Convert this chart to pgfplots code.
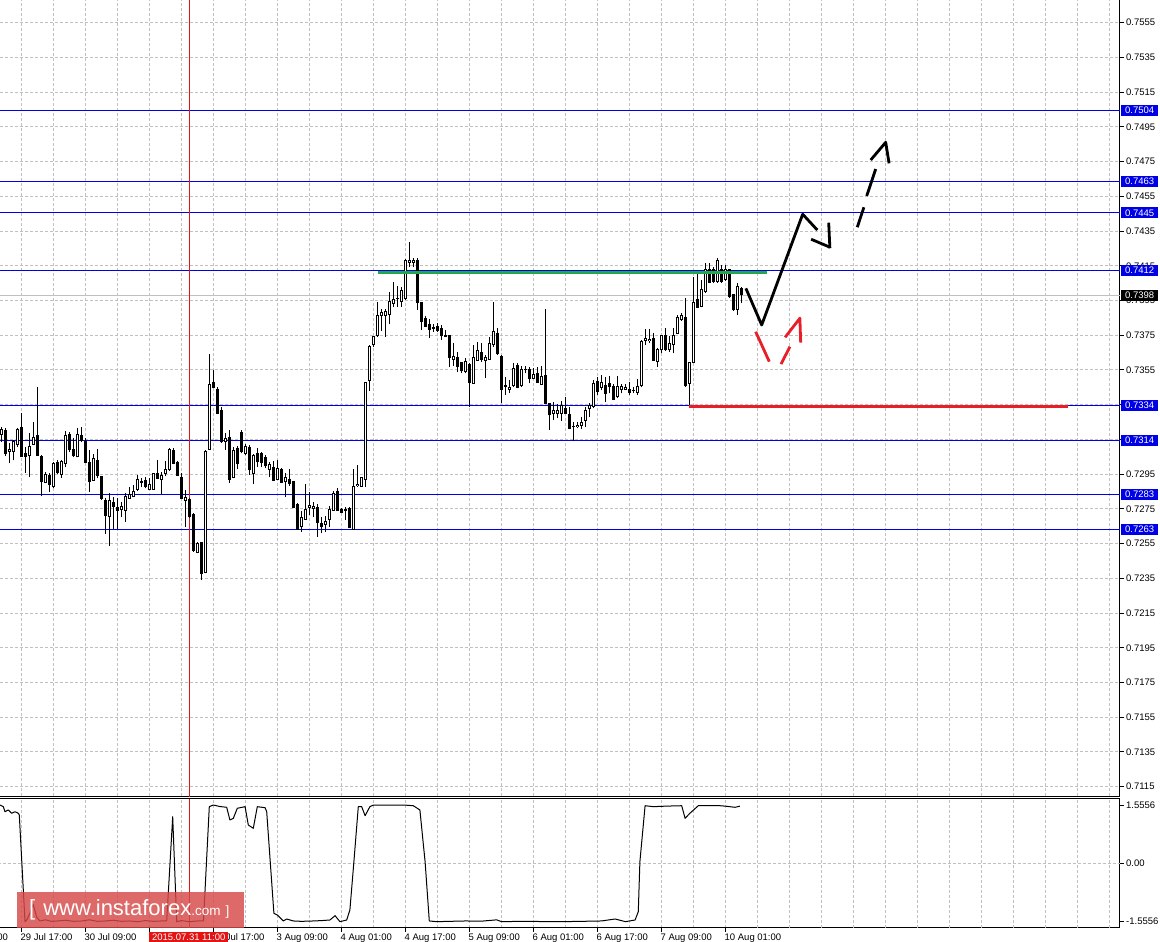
\documentclass[border=0pt]{standalone}
\usepackage{fontspec}
\setmainfont{Liberation Sans}
\usepackage{pgfplots}
\pgfplotsset{compat=1.18}
\usepackage{pgfplotstable}

\definecolor{gridgray}{RGB}{192,192,192}
\definecolor{lvlblue}{RGB}{0,0,230}
\definecolor{xred}{RGB}{228,20,20}
\definecolor{mygreen}{RGB}{36,166,78}
\definecolor{myred}{RGB}{232,30,40}
\definecolor{wmred}{RGB}{214,72,72}

\newcommand\tf{\fontsize{9.5pt}{11pt}\selectfont}

\pgfplotstableread{
k o h l c
0 .73181 .73223 .73137 .73208
1 .73204 .73214 .73054 .73070
2 .73081 .73127 .73012 .73094
3 .73079 .73146 .73031 .73137
4 .73121 .73214 .73108 .73208
5 .73219 .73300 .73050 .73054
6 .73070 .73108 .72958 .73050
7 .73058 .73185 .72931 .73112
8 .73121 .73248 .73116 .73162
9 .73175 .73454 .73054 .73058
10 .73054 .73060 .72824 .72906
11 .72903 .72964 .72897 .72949
12 .72945 .72954 .72849 .72893
13 .72878 .73022 .72868 .73012
14 .73018 .73031 .72949 .72958
15 .72949 .73031 .72926 .73022
16 .73012 .73200 .72989 .73175
17 .73181 .73194 .73079 .73094
18 .73094 .73156 .73047 .73056
19 .73050 .73214 .73047 .73181
20 .73175 .73223 .73137 .73146
21 .73137 .73160 .73012 .73016
22 .73016 .73089 .72849 .72906
23 .72916 .73066 .72910 .73039
24 .73031 .73093 .72926 .72943
25 .72935 .72939 .72801 .72810
26 .72801 .72810 .72605 .72714
27 .72705 .72839 .72538 .72801
28 .72789 .72816 .72634 .72766
29 .72759 .72810 .72634 .72743
30 .72747 .72791 .72701 .72762
31 .72743 .72839 .72676 .72824
32 .72810 .72878 .72807 .72830
33 .72820 .72887 .72816 .72849
34 .72862 .72945 .72853 .72920
35 .72910 .72926 .72878 .72901
36 .72916 .72935 .72868 .72878
37 .72862 .72926 .72858 .72893
38 .72862 .72958 .72858 .72951
39 .72951 .73031 .72920 .72926
40 .72920 .72964 .72835 .72945
41 .72951 .73025 .72939 .72977
42 .72974 .73098 .72968 .73093
43 .73089 .73098 .73008 .73012
44 .73018 .73025 .72939 .72945
45 .72931 .72958 .72805 .72810
46 .72801 .72858 .72647 .72814
47 .72805 .72810 .72695 .72705
48 .72720 .72724 .72503 .72509
49 .72499 .72561 .72494 .72551
50 .72557 .72561 .72340 .72378
51 .72384 .73089 .72378 .73083
52 .73093 .73642 .73089 .73464
53 .73477 .73550 .73446 .73448
54 .73440 .73454 .73296 .73300
55 .73319 .73339 .73131 .73137
56 .73137 .73187 .73089 .73153
57 .73162 .73204 .72901 .72920
58 .72932 .73108 .72926 .73085
59 .73099 .73112 .72978 .73012
60 .73191 .73204 .73070 .73079
61 .73070 .73124 .73060 .73112
62 .73102 .73118 .72945 .72974
63 .72955 .73064 .72892 .73055
64 .73070 .73098 .72993 .73020
65 .73070 .73079 .72989 .73016
66 .73047 .73060 .72983 .72997
67 .72977 .73022 .72931 .73003
68 .72989 .73027 .72912 .72916
69 .72920 .73031 .72916 .72983
70 .72974 .72983 .72901 .72903
71 .72906 .72958 .72820 .72931
72 .72920 .72977 .72881 .72897
73 .72906 .72912 .72753 .72757
74 .72776 .72782 .72630 .72634
75 .72647 .72739 .72618 .72701
76 .72690 .72893 .72686 .72747
77 .72757 .72845 .72714 .72772
78 .72753 .72791 .72701 .72762
79 .72759 .72778 .72590 .72670
80 .72663 .72705 .72609 .72647
81 .72661 .72709 .72618 .72680
82 .72690 .72766 .72647 .72747
83 .72743 .72855 .72739 .72839
84 .72849 .72868 .72739 .72743
85 .72747 .72753 .72724 .72730
86 .72747 .72759 .72686 .72741
87 .72753 .72762 .72638 .72643
88 .72634 .72977 .72630 .72878
89 .72885 .73003 .72878 .72891
90 .72881 .72935 .72878 .72931
91 .72920 .73482 .72878 .73479
92 .73488 .73694 .73431 .73684
93 .73694 .73746 .73684 .73742
94 .73746 .73943 .73742 .73866
95 .73865 .73899 .73776 .73880
96 .73865 .73899 .73742 .73886
97 .73870 .74001 .73813 .73943
98 .73934 .74059 .73915 .73953
99 .73959 .74034 .73915 .73963
100 .73943 .74030 .73915 .74007
101 .73959 .74187 .73953 .74183
102 .74170 .74285 .74141 .74183
103 .74170 .74193 .74141 .74178
104 .74183 .74193 .73895 .73938
105 .73938 .73943 .73780 .73828
106 .73847 .73861 .73795 .73803
107 .73813 .73842 .73732 .73784
108 .73795 .73815 .73770 .73790
109 .73803 .73819 .73770 .73780
110 .73790 .73809 .73722 .73746
111 .73746 .73780 .73738 .73742
112 .73751 .73751 .73569 .73623
113 .73611 .73703 .73573 .73630
114 .73623 .73655 .73540 .73569
115 .73592 .73598 .73530 .73546
116 .73540 .73617 .73530 .73598
117 .73584 .73592 .73339 .73477
118 .73473 .73694 .73469 .73623
119 .73607 .73713 .73604 .73661
120 .73650 .73703 .73598 .73611
121 .73602 .73636 .73502 .73623
122 .73611 .73742 .73607 .73703
123 .73694 .73943 .73684 .73771
124 .73761 .73790 .73636 .73642
125 .73630 .73636 .73358 .73438
126 .73454 .73511 .73406 .73458
127 .73438 .73492 .73415 .73450
128 .73458 .73592 .73454 .73559
129 .73573 .73588 .73444 .73450
130 .73458 .73573 .73454 .73554
131 .73554 .73573 .73530 .73550
132 .73554 .73569 .73473 .73502
133 .73502 .73559 .73496 .73521
134 .73530 .73569 .73473 .73477
135 .73469 .73573 .73463 .73515
136 .73519 .73901 .73354 .73358
137 .73358 .73362 .73204 .73291
138 .73300 .73367 .73262 .73316
139 .73300 .73354 .73272 .73316
140 .73300 .73373 .73258 .73348
141 .73329 .73396 .73296 .73300
142 .73291 .73339 .73208 .73214
143 .73223 .73252 .73143 .73227
144 .73227 .73252 .73214 .73233
145 .73233 .73281 .73208 .73246
146 .73258 .73339 .73223 .73319
147 .73329 .73358 .73281 .73348
148 .73342 .73492 .73329 .73473
149 .73483 .73511 .73406 .73425
150 .73450 .73521 .73434 .73477
151 .73463 .73511 .73367 .73415
152 .73473 .73515 .73415 .73454
153 .73454 .73469 .73377 .73381
154 .73396 .73515 .73386 .73454
155 .73438 .73469 .73415 .73454
156 .73438 .73469 .73434 .73450
157 .73438 .73483 .73406 .73419
158 .73434 .73454 .73415 .73431
159 .73419 .73496 .73406 .73454
160 .73458 .73722 .73450 .73713
161 .73719 .73784 .73694 .73732
162 .73719 .73784 .73707 .73726
163 .73732 .73761 .73604 .73607
164 .73598 .73674 .73569 .73665
165 .73665 .73751 .73650 .73746
166 .73746 .73790 .73661 .73669
167 .73665 .73746 .73655 .73703
168 .73694 .73790 .73646 .73746
169 .73761 .73866 .73757 .73853
170 .73838 .73876 .73834 .73866
171 .73853 .73963 .73454 .73458
172 .73473 .73598 .73329 .73592
173 .73592 .74087 .73588 .73938
174 .73953 .74107 .73905 .73911
175 .73918 .74068 .73911 .74014
176 .74001 .74168 .73995 .74126
177 .74130 .74164 .74049 .74053
178 .74130 .74145 .74053 .74059
179 .74059 .74193 .74053 .74180
180 .74130 .74155 .74053 .74059
181 .74072 .74155 .74064 .74130
182 .74126 .74130 .73963 .73972
183 .73982 .73988 .73892 .73899
184 .73899 .74053 .73866 .74030
185 .74020 .74026 .73934 .73982
}\candles

\pgfplotstableread{
k v
-0.375 1.561
0.45 1.516
0.875 1.381
1.7 1.427
2.55 1.339
3.375 1.381
4.2 1.339
4.45 1.293
5.875 -1.569
6.3 -1.524
7.1 -1.35
7.9 -1.10
8.8 -1.45
9.6 -1.55
11 -1.52
12.5 -1.56
14 -1.55
16 -1.53
18 -1.56
20 -1.55
22 -1.52
24 -1.56
26 -1.55
28 -1.53
30 -1.56
32 -1.55
34 -1.57
36 -1.54
38 -1.56
40 -1.55
41.3 -1.55
42.8 1.247
43.8 -1.569
45 -1.54
47 -1.57
49 -1.55
50.5 -1.55
51.95 1.516
52.95 1.561
54.6 1.52
56.3 1.5
57.1 1.159
57.95 1.204
58.95 1.473
60.9 1.516
61.7 1.025
62.95 0.936
63.95 1.516
65.9 1.489
66.3 1.381
68.1 -1.344
68.95 -1.389
70.45 -1.55
71.3 -1.497
72.95 -1.55
75 -1.56
78 -1.55
80 -1.54
82.1 -1.524
83.4 -1.408
84.6 -1.569
86.3 -1.524
87.1 -1.255
88.1 0.04
89.2 1.516
90.05 1.516
90.9 1.274
92.1 1.516
93 1.561
100.45 1.561
102.95 1.542
104.6 1.427
105.9 0.04
106.95 -1.55
108.8 -1.569
112 -1.56
116 -1.55
120 -1.555
123.8 -1.52
125 -1.569
130 -1.56
135 -1.565
140 -1.569
145 -1.56
150 -1.55
153.4 -1.497
156 -1.569
158.4 -1.524
159.2 -1.3
159.6 0.04
160.9 1.542
162.95 1.516
166 1.53
170.05 1.542
170.9 1.204
172.1 1.339
174.2 1.542
179.6 1.542
181 1.53
183.4 1.499
184.6 1.53
}\indtab

\begin{document}
\begin{tikzpicture}
\useasboundingbox (0,0) rectangle (1160pt,942pt);
\fill[white] (0,0) rectangle (1160pt,942pt);

% ---------------- main price panel ----------------
\begin{axis}[
  at={(0pt,145.5pt)}, anchor=south west, scale only axis,
  width=1120pt, height=796.5pt,
  xmin=-0.375, xmax=279.625, ymin=0.710936, ymax=0.756807,
  axis x line*=bottom, axis y line*=right,
  axis line style={-, black, line width=1pt},
  xtick={5,13,...,277}, xticklabels={}, major x tick style={draw=none},
  ytick={0.7115,0.7135,0.7155,0.7175,0.7195,0.7215,0.7235,0.7255,0.7275,0.7295,0.7315,0.7335,0.7355,0.7375,0.7395,0.7415,0.7435,0.7455,0.7475,0.7495,0.7515,0.7535,0.7555},
  yticklabels={0.7115,0.7135,0.7155,0.7175,0.7195,0.7215,0.7235,0.7255,0.7275,0.7295,0.7315,0.7335,0.7355,0.7375,0.7395,0.7415,0.7435,0.7455,0.7475,0.7495,0.7515,0.7535,0.7555},
  tick align=outside, major tick length=4pt,
  major tick style={black, line width=1pt},
  yticklabel style={font=\tf, anchor=west, inner sep=0pt, xshift=2pt},
  xmajorgrids, ymajorgrids,
  major grid style={gridgray, line width=1pt, dash pattern=on 3pt off 2pt},
]
% level lines
\addplot[lvlblue, line width=1pt] coordinates {(-1,0.75045) (290,0.75045)};
\addplot[lvlblue, line width=1pt] coordinates {(-1,0.74635) (290,0.74635)};
\addplot[lvlblue, line width=1pt] coordinates {(-1,0.74455) (290,0.74455)};
\addplot[lvlblue, line width=1pt] coordinates {(-1,0.74125) (290,0.74125)};
\addplot[lvlblue, line width=1pt] coordinates {(-1,0.73345) (290,0.73345)};
\addplot[lvlblue, line width=1pt] coordinates {(-1,0.73145) (290,0.73145)};
\addplot[lvlblue, line width=1pt] coordinates {(-1,0.72835) (290,0.72835)};
\addplot[lvlblue, line width=1pt] coordinates {(-1,0.72633) (290,0.72633)};
% bid line
\addplot[gridgray, line width=1pt] coordinates {(-1,0.73979) (290,0.73979)};
% crosshair
\addplot[xred, line width=1pt] coordinates {(46.95,0.70) (46.95,0.76)};
% wicks
\addplot[draw=none, mark=none, error bars/.cd, y dir=plus, y explicit, error mark=none,
  error bar style={draw=black, line width=1pt}]
  table[x=k, y=l, y error plus expr=\thisrow{h}-\thisrow{l}] {\candles};
% bodies
\addplot[draw=none, mark=none, error bars/.cd, y dir=plus, y explicit, error mark=none,
  error bar style={draw=black, line width=3pt}]
  table[x=k, y expr={min(\thisrow{o},\thisrow{c})-0.0000288},
        y error plus expr={abs(\thisrow{c}-\thisrow{o})+0.0000576}] {\candles};
% hollow interiors of rising candles
\addplot[draw=none, mark=none, error bars/.cd, y dir=plus, y explicit, error mark=none,
  error bar style={draw=white, line width=1pt}]
  table[x=k, y expr={\thisrow{o}+0.0000288},
        y error plus expr={max(\thisrow{c}-\thisrow{o}-0.0000576,0)}] {\candles};
% drawn objects
\addplot[mygreen, line width=3pt] coordinates {(94.2,0.74113) (191.3,0.74113)};
\addplot[myred, line width=3pt] coordinates {(171.9,0.73341) (266.6,0.73341)};
\addplot[black, line width=2.8pt, line join=round] coordinates {(186.1,0.74020) (190.05,0.73809) (200.3,0.74447) (203.95,0.74356)};
\addplot[black, line width=2.8pt] coordinates {(202.4,0.74303) (207.1,0.74257)};
\addplot[black, line width=2.8pt] coordinates {(206.8,0.74398) (207.1,0.74251)};
\addplot[black, line width=2.8pt] coordinates {(213.95,0.74372) (215.6,0.74487)};
\addplot[black, line width=2.8pt] coordinates {(216.3,0.74552) (218.55,0.74707)};
\addplot[black, line width=2.8pt, line join=round] coordinates {(217.3,0.74759) (221.05,0.74861) (221.9,0.74740)};
\addplot[myred, line width=2.8pt] coordinates {(188.55,0.73770) (191.95,0.73598)};
\addplot[myred, line width=2.8pt] coordinates {(194.9,0.73584) (197.1,0.73684)};
\addplot[myred, line width=2.8pt, line join=round] coordinates {(195.9,0.73738) (199.6,0.73848) (199.8,0.73707)};
\end{axis}

% ---------------- indicator panel ----------------
\begin{axis}[
  at={(0pt,14.3pt)}, anchor=south west, scale only axis,
  width=1120pt, height=129.2pt,
  xmin=-0.375, xmax=279.625, ymin=-1.7305, ymax=1.7355,
  axis x line*=bottom, axis y line*=right,
  axis line style={-, black, line width=1pt},
  xtick={5,21,...,181},
  xticklabels={29 Jul 17:00,30 Jul 09:00,31 Jul 01:00,31 Jul 17:00,3 Aug 09:00,4 Aug 01:00,4 Aug 17:00,5 Aug 09:00,6 Aug 01:00,6 Aug 17:00,7 Aug 09:00,10 Aug 01:00},
  minor x tick num=1, minor tick length=0pt,
  extra x ticks={189,197,...,277}, extra x tick labels={},
  extra x tick style={major tick length=0pt, grid=major},
  xmajorgrids, xminorgrids,
  ytick={-1.5556,0,1.5556}, yticklabels={-1.5556,0.00,1.5556},
  tick align=outside, major tick length=4pt,
  major tick style={black, line width=1pt},
  xticklabel style={font=\tf, anchor=north west, inner sep=0pt, xshift=-1pt, yshift=-1.5pt},
  yticklabel style={font=\tf, anchor=west, inner sep=0pt, xshift=2pt},
  major grid style={gridgray, line width=1pt, dash pattern=on 3pt off 2pt},
  minor grid style={gridgray, line width=1pt, dash pattern=on 3pt off 2pt},
]
\addplot[gridgray, line width=1pt, dash pattern=on 3pt off 2pt] coordinates {(-1,0) (290,0)};
\addplot[xred, line width=1pt] coordinates {(46.95,-2) (46.95,2)};
\addplot[black, line width=1pt, line join=round] table[x=k, y=v] {\indtab};
\end{axis}

% frame line on top of the indicator window
\draw[black, line width=1pt] (0pt,143.5pt) -- (1120pt,143.5pt);

% watermark
\fill[wmred, opacity=0.82] (17.3pt,13.7pt) rectangle (244pt,50.3pt);
\node[anchor=base west, inner sep=0pt, text=white] at (29pt,26.3pt)
  {\fontsize{22pt}{22pt}\selectfont[\hspace{8pt}www.instaforex\fontsize{13.5pt}{13.5pt}\selectfont.com\hspace{5pt}]};

% cut-off first date label
\node[anchor=north west, inner sep=0pt, font=\tf] at (-44pt,8.8pt) {29 Jul 01:00};

% crosshair time label
\fill[xred] (149pt,0pt) rectangle (228.3pt,9.7pt);
\node[text=white, font=\tf, inner sep=0pt] at (188.7pt,5.2pt) {2015.07.31 11:00};

% price level labels
\tikzset{lvl/.style={fill=lvlblue, text=white, font=\tf, inner sep=0pt, minimum width=37pt, minimum height=11pt, anchor=west}}
\node[lvl] at (1121pt,831.6pt) {0.7504};
\node[lvl] at (1121pt,760.4pt) {0.7463};
\node[lvl] at (1121pt,729.2pt) {0.7445};
\node[lvl] at (1121pt,671.9pt) {0.7412};
\node[lvl, fill=black] at (1121pt,646.5pt) {0.7398};
\node[lvl] at (1121pt,536.4pt) {0.7334};
\node[lvl] at (1121pt,501.7pt) {0.7314};
\node[lvl] at (1121pt,447.9pt) {0.7283};
\node[lvl] at (1121pt,412.8pt) {0.7263};
\end{tikzpicture}
\end{document}
